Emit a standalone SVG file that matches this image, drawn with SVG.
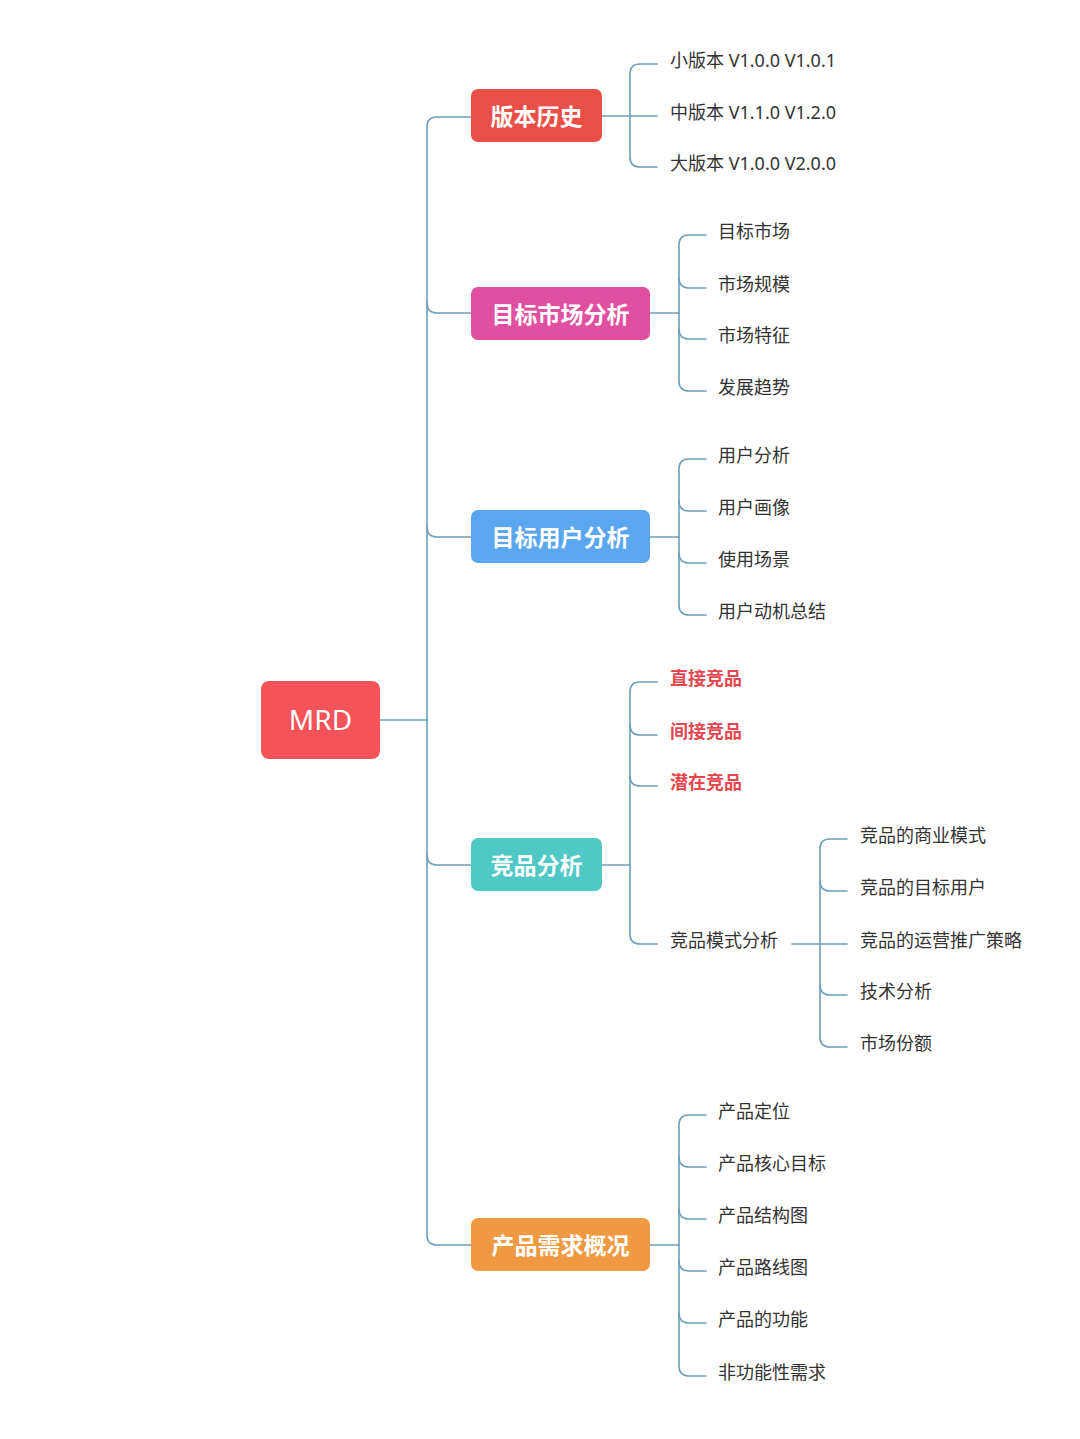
<svg xmlns="http://www.w3.org/2000/svg" width="1080" height="1439" viewBox="0 0 1080 1439">
<style>
.ln{fill:none;stroke:#6e9fbb;stroke-width:1.6;stroke-linecap:round}
.main{font-family:"Noto Sans CJK SC","Noto Sans",sans-serif;font-size:23px;font-weight:bold;fill:#fff;text-anchor:middle;dominant-baseline:central}
.lbl{font-family:"Noto Sans","Noto Sans CJK SC",sans-serif;font-size:18px;fill:#333;dominant-baseline:central}
.red{fill:#e5474f;font-weight:bold}
</style>
<rect width="1080" height="1439" fill="#fff"/>
<g id="connectors">
<path class="ln" d="M380,720 H427"/>
<path class="ln" d="M471,117 H437 Q427,117 427,127 V1235 Q427,1245 437,1245 H471"/>
<path class="ln" d="M427,303 Q427,313 437,313 H471"/>
<path class="ln" d="M427,527 Q427,537 437,537 H471"/>
<path class="ln" d="M427,855 Q427,865 437,865 H471"/>
<path class="ln" d="M602,116 H657"/>
<path class="ln" d="M657,64 H640 Q630,64 630,74 V157 Q630,167 640,167 H657"/>
<path class="ln" d="M650,313 H679"/>
<path class="ln" d="M706,235 H689 Q679,235 679,245 V381 Q679,391 689,391 H706"/>
<path class="ln" d="M679,278 Q679,288 689,288 H706"/>
<path class="ln" d="M679,329 Q679,339 689,339 H706"/>
<path class="ln" d="M650,537 H679"/>
<path class="ln" d="M706,459 H689 Q679,459 679,469 V605 Q679,615 689,615 H706"/>
<path class="ln" d="M679,501 Q679,511 689,511 H706"/>
<path class="ln" d="M679,553 Q679,563 689,563 H706"/>
<path class="ln" d="M602,865 H630"/>
<path class="ln" d="M657,682 H640 Q630,682 630,692 V934 Q630,944 640,944 H657"/>
<path class="ln" d="M630,725 Q630,735 640,735 H657"/>
<path class="ln" d="M630,776 Q630,786 640,786 H657"/>
<path class="ln" d="M792,944 H847"/>
<path class="ln" d="M847,839 H830 Q820,839 820,849 V1037 Q820,1047 830,1047 H847"/>
<path class="ln" d="M820,881 Q820,891 830,891 H847"/>
<path class="ln" d="M820,985 Q820,995 830,995 H847"/>
<path class="ln" d="M650,1245 H679"/>
<path class="ln" d="M706,1115 H689 Q679,1115 679,1125 V1366 Q679,1376 689,1376 H706"/>
<path class="ln" d="M679,1157 Q679,1167 689,1167 H706"/>
<path class="ln" d="M679,1209 Q679,1219 689,1219 H706"/>
<path class="ln" d="M679,1261 Q679,1271 689,1271 H706"/>
<path class="ln" d="M679,1313 Q679,1323 689,1323 H706"/>
</g>
<g id="mrd">
<rect x="261" y="681" width="119" height="78" rx="8" fill="#f4535a"/>
<text x="320.5" y="718.5" font-family="'Noto Sans','Liberation Sans',sans-serif" font-size="28" fill="#fff" text-anchor="middle" dominant-baseline="central">MRD</text>
</g>
<g id="n-version">
<rect x="471" y="89" width="131" height="53" rx="7" fill="#e84f47"/>
<text class="main" x="536.5" y="114.5">版本历史</text>
</g>
<g id="n-market">
<rect x="471" y="287" width="179" height="53" rx="7" fill="#e04fa0"/>
<text class="main" x="560.5" y="312.5">目标市场分析</text>
</g>
<g id="n-user">
<rect x="471" y="510" width="179" height="53" rx="7" fill="#5aa7f0"/>
<text class="main" x="560.5" y="535.5">目标用户分析</text>
</g>
<g id="n-comp">
<rect x="471" y="838" width="131" height="53" rx="7" fill="#4fc8c6"/>
<text class="main" x="536.5" y="863.5">竞品分析</text>
</g>
<g id="n-product">
<rect x="471" y="1218" width="179" height="53" rx="7" fill="#ef9a42"/>
<text class="main" x="560.5" y="1243.5">产品需求概况</text>
</g>
<g id="leaves-version">
<text class="lbl" x="670" y="60">小版本 V1.0.0 V1.0.1</text>
<text class="lbl" x="670" y="112">中版本 V1.1.0 V1.2.0</text>
<text class="lbl" x="670" y="163">大版本 V1.0.0 V2.0.0</text>
</g>
<g id="leaves-market">
<text class="lbl" x="718" y="231">目标市场</text>
<text class="lbl" x="718" y="284">市场规模</text>
<text class="lbl" x="718" y="335">市场特征</text>
<text class="lbl" x="718" y="387">发展趋势</text>
</g>
<g id="leaves-user">
<text class="lbl" x="718" y="455">用户分析</text>
<text class="lbl" x="718" y="507">用户画像</text>
<text class="lbl" x="718" y="559">使用场景</text>
<text class="lbl" x="718" y="611">用户动机总结</text>
</g>
<g id="leaves-comp">
<text class="lbl red" x="670" y="678">直接竞品</text>
<text class="lbl red" x="670" y="731">间接竞品</text>
<text class="lbl red" x="670" y="782">潜在竞品</text>
<text class="lbl" x="670" y="940">竞品模式分析</text>
</g>
<g id="leaves-mode">
<text class="lbl" x="860" y="835">竞品的商业模式</text>
<text class="lbl" x="860" y="887">竞品的目标用户</text>
<text class="lbl" x="860" y="940">竞品的运营推广策略</text>
<text class="lbl" x="860" y="991">技术分析</text>
<text class="lbl" x="860" y="1043">市场份额</text>
</g>
<g id="leaves-product">
<text class="lbl" x="718" y="1111">产品定位</text>
<text class="lbl" x="718" y="1163">产品核心目标</text>
<text class="lbl" x="718" y="1215">产品结构图</text>
<text class="lbl" x="718" y="1267">产品路线图</text>
<text class="lbl" x="718" y="1319">产品的功能</text>
<text class="lbl" x="718" y="1372">非功能性需求</text>
</g>
</svg>
